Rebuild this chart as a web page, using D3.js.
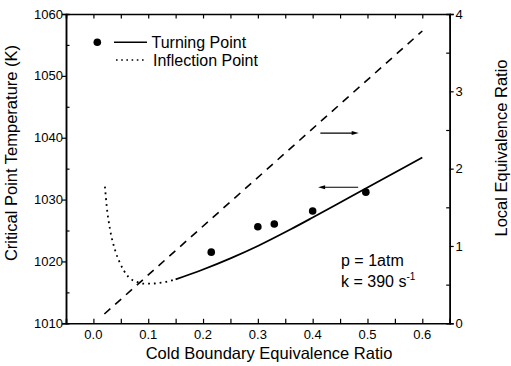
<!DOCTYPE html>
<html>
<head>
<meta charset="UTF-8">
<style>
  body { margin: 0; background: #fff; }
  svg { display: block; font-family: "Liberation Sans", Arial, sans-serif; }
</style>
</head>
<body>
<svg></svg>
<script src="https://d3js.org/d3.v7.min.js"></script>
<script>
// data
let turnX = [0.15, 0.2, 0.25, 0.3, 0.36, 0.4, 0.47, 0.53, 0.6];
let turnT = [1017.1, 1018.7, 1020.5, 1022.5, 1025.2, 1027.1, 1030.5, 1033.4, 1036.8];

let inflX = [0.021, 0.0244, 0.0305, 0.0396, 0.0487, 0.0638, 0.079, 0.0925, 0.1047, 0.1167, 0.138, 0.15];
let inflT = [1032.1, 1028.8, 1025.1, 1021.8, 1019.7, 1017.5, 1016.7, 1016.4, 1016.4, 1016.5, 1016.8, 1017.1];

let pointX = [0.215, 0.3, 0.33, 0.4, 0.497];
let pointT = [1021.5, 1025.6, 1026.05, 1028.15, 1031.2];

let localX = [0.02, 0.6];
let localPhi = [0.12, 3.78];

let xTicks = [0, 0.1, 0.2, 0.3, 0.4, 0.5, 0.6];
let yTicks = [1010, 1020, 1030, 1040, 1050, 1060];
let y2Ticks = [0, 1, 2, 3, 4];

let width = 511, height = 366;
let svg = d3.select("svg").attr("width", width).attr("height", height);

let x = d3.scaleLinear().domain([-0.05, 0.65]).range([66, 449.7]);
let y = d3.scaleLinear().domain([1010, 1060]).range([323.3, 14]);
let y2 = d3.scaleLinear().domain([0, 4]).range([323.3, 14]);

// axes
let xMinor = d3.range(-0.05, 0.651, 0.05);
let bottomAxis = svg.append("g").attr("transform", "translate(0," + y.range()[0] + ")");
bottomAxis.call(d3.axisBottom(x).tickValues(xMinor).tickSize(-4.5).tickFormat(""));
let topAxis = svg.append("g").attr("transform", "translate(0," + y.range()[1] + ")");
topAxis.call(d3.axisTop(x).tickValues(xMinor).tickSize(-4.5).tickFormat(""));

svg.append("g").selectAll("text").data(xTicks).enter().append("text")
  .attr("x", d => x(d)).attr("y", 338.5)
  .attr("text-anchor", "middle").attr("font-size", 13)
  .text(d => d3.format(".1f")(d));

let leftAxis = svg.append("g").attr("transform", "translate(" + x.range()[0] + ",0)");
leftAxis.call(d3.axisLeft(y).tickValues(yTicks).tickSize(4).tickFormat(""));
leftAxis.append("g").call(d3.axisLeft(y).tickValues(d3.range(1015, 1060, 10)).tickSize(-3.5).tickFormat(""));
svg.append("g").selectAll("text").data(yTicks).enter().append("text")
  .attr("x", 63).attr("y", d => y(d) + 4.6)
  .attr("text-anchor", "end").attr("font-size", 13)
  .text(d => d);

let rightAxis = svg.append("g").attr("transform", "translate(" + x.range()[1] + ",0)");
rightAxis.call(d3.axisRight(y2).tickValues(y2Ticks).tickSize(4).tickFormat(""));
rightAxis.append("g").call(d3.axisRight(y2).tickValues(d3.range(0.5, 4, 1)).tickSize(-3.5).tickFormat(""));
svg.append("g").selectAll("text").data(y2Ticks).enter().append("text")
  .attr("x", 455.5).attr("y", d => y2(d) + 4.6)
  .attr("font-size", 13)
  .text(d => d);

svg.selectAll(".domain").attr("stroke-width", 1.5);
svg.selectAll(".tick line").attr("stroke-width", 1.2);

// axis titles
svg.append("text").attr("x", 269).attr("y", 359)
  .attr("text-anchor", "middle").attr("font-size", 16.5)
  .text("Cold Boundary Equivalence Ratio");
svg.append("text").attr("transform", "translate(17,153) rotate(-90)")
  .attr("text-anchor", "middle").attr("font-size", 16.5)
  .text("Critical Point Temperature (K)");
svg.append("text").attr("transform", "translate(507,148) rotate(-90)")
  .attr("text-anchor", "middle").attr("font-size", 16.5)
  .text("Local Equivalence Ratio");

// curves
let turnLine = d3.line().x(d => x(d[0])).y(d => y(d[1])).curve(d3.curveCatmullRom);
let inflLine = d3.line().x(d => x(d[0])).y(d => y(d[1])).curve(d3.curveMonotoneX);
svg.append("path").datum(d3.zip(turnX, turnT))
  .attr("d", turnLine).attr("fill", "none").attr("stroke", "#000").attr("stroke-width", 1.8);
svg.append("path").datum(d3.zip(inflX, inflT))
  .attr("d", inflLine).attr("fill", "none").attr("stroke", "#000")
  .attr("stroke-width", 1.8).attr("stroke-dasharray", "1.8,4");

let phiLine = d3.line().x(d => x(d[0])).y(d => y2(d[1]));
svg.append("path").datum(d3.zip(localX, localPhi))
  .attr("d", phiLine).attr("fill", "none").attr("stroke", "#000")
  .attr("stroke-width", 1.6).attr("stroke-dasharray", "8,6.5");

svg.append("g").selectAll("circle").data(d3.zip(pointX, pointT)).enter().append("circle")
  .attr("cx", d => x(d[0])).attr("cy", d => y(d[1])).attr("r", 3.8).attr("fill", "#000");

// arrows pointing to the axis each line belongs to
function arrow(x1, x2, py) {
  let dir = x2 > x1 ? 1 : -1;
  svg.append("line").attr("x1", x1).attr("x2", x2 - dir * 5).attr("y1", py).attr("y2", py)
    .attr("stroke", "#000").attr("stroke-width", 1.1);
  svg.append("path")
    .attr("d", "M" + x2 + "," + py + "L" + (x2 - dir * 7) + "," + (py - 2) + "L" + (x2 - dir * 7) + "," + (py + 2) + "Z")
    .attr("fill", "#000");
}
arrow(x(0.414), x(0.484), y2(2.46));
arrow(x(0.483), x(0.41), y(1032.0));

// legend
let lg = svg.append("g");
lg.append("circle").attr("cx", 97.3).attr("cy", 42.3).attr("r", 3.8).attr("fill", "#000");
lg.append("line").attr("x1", 114).attr("x2", 147).attr("y1", 42.3).attr("y2", 42.3)
  .attr("stroke", "#000").attr("stroke-width", 1.5);
lg.append("text").attr("x", 151.5).attr("y", 47.5).attr("font-size", 16).text("Turning Point");
lg.append("line").attr("x1", 116).attr("x2", 147).attr("y1", 60).attr("y2", 60)
  .attr("stroke", "#000").attr("stroke-width", 1.6).attr("stroke-dasharray", "1.6,3.6");
lg.append("text").attr("x", 153).attr("y", 65.5).attr("font-size", 16).text("Inflection Point");

// conditions
svg.append("text").attr("x", 341).attr("y", 266).attr("font-size", 16).text("p = 1atm");
let k = svg.append("text").attr("x", 341).attr("y", 287).attr("font-size", 16);
k.append("tspan").text("k = 390 s");
k.append("tspan").attr("dy", -7).attr("font-size", 10).text("-1");
</script>
</body>
</html>
